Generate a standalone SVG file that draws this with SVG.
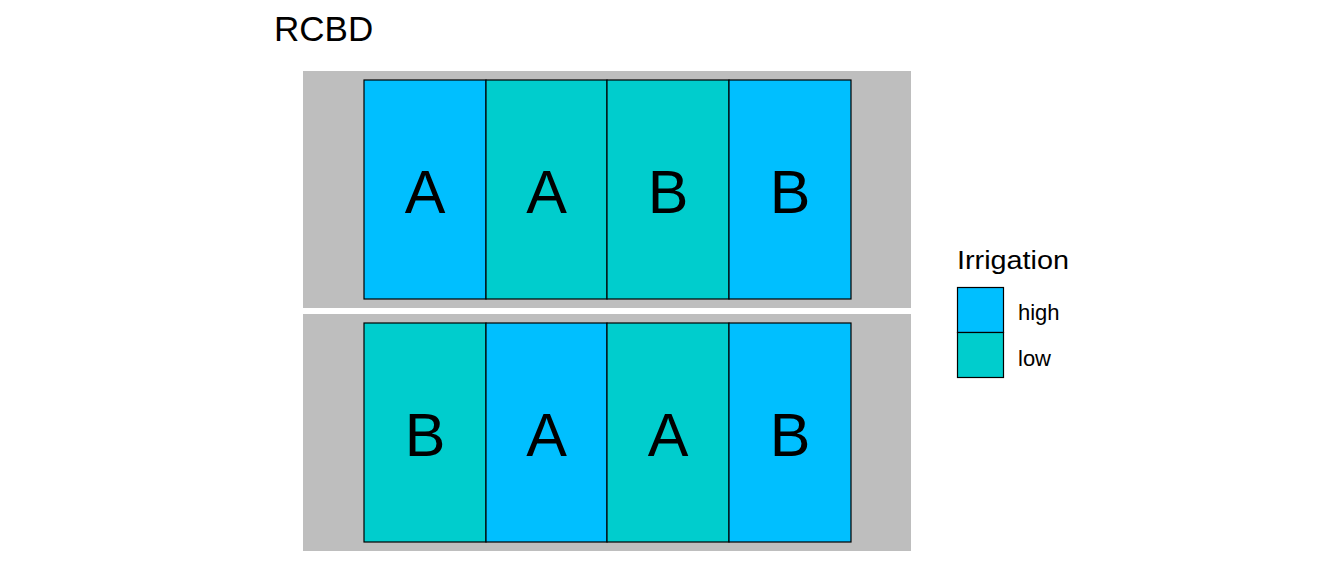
<svg xmlns="http://www.w3.org/2000/svg" width="1344" height="576" viewBox="0 0 1344 576">
<style>
text{font-family:"Liberation Sans",Arial,sans-serif;fill:#000}
.panel{fill:#bebebe}
.hi{fill:#00bfff;stroke:#000;stroke-width:1.2}
.lo{fill:#00cdcd;stroke:#000;stroke-width:1.2}
.lab{font-size:61px;text-anchor:middle}
.leg{font-size:22px}
</style>
<rect width="1344" height="576" fill="#fff"/>
<text x="274" y="41" font-size="35">RCBD</text>
<g id="block1">
<rect class="panel" x="303" y="71" width="608" height="237"/>
<g id="plot1-1"><rect class="hi" x="364" y="80" width="122" height="219"/><text class="lab" x="425" y="213">A</text></g>
<g id="plot1-2"><rect class="lo" x="486" y="80" width="121" height="219"/><text class="lab" x="546.5" y="213">A</text></g>
<g id="plot1-3"><rect class="lo" x="607" y="80" width="122" height="219"/><text class="lab" x="668" y="213">B</text></g>
<g id="plot1-4"><rect class="hi" x="729" y="80" width="122" height="219"/><text class="lab" x="790" y="213">B</text></g>
</g>
<g id="block2">
<rect class="panel" x="303" y="314" width="608" height="237"/>
<g id="plot2-1"><rect class="lo" x="364" y="323" width="122" height="219"/><text class="lab" x="425" y="456">B</text></g>
<g id="plot2-2"><rect class="hi" x="486" y="323" width="121" height="219"/><text class="lab" x="546.5" y="456">A</text></g>
<g id="plot2-3"><rect class="lo" x="607" y="323" width="122" height="219"/><text class="lab" x="668" y="456">A</text></g>
<g id="plot2-4"><rect class="hi" x="729" y="323" width="122" height="219"/><text class="lab" x="790" y="456">B</text></g>
</g>
<g id="legend">
<text x="957" y="269" font-size="26" textLength="112" lengthAdjust="spacingAndGlyphs">Irrigation</text>
<rect class="hi" x="957.5" y="287.5" width="46" height="45"/>
<rect class="lo" x="957.5" y="332.5" width="46" height="45"/>
<text class="leg" x="1018" y="320">high</text>
<text class="leg" x="1018" y="366">low</text>
</g>
<g id="connectors"/>
</svg>
